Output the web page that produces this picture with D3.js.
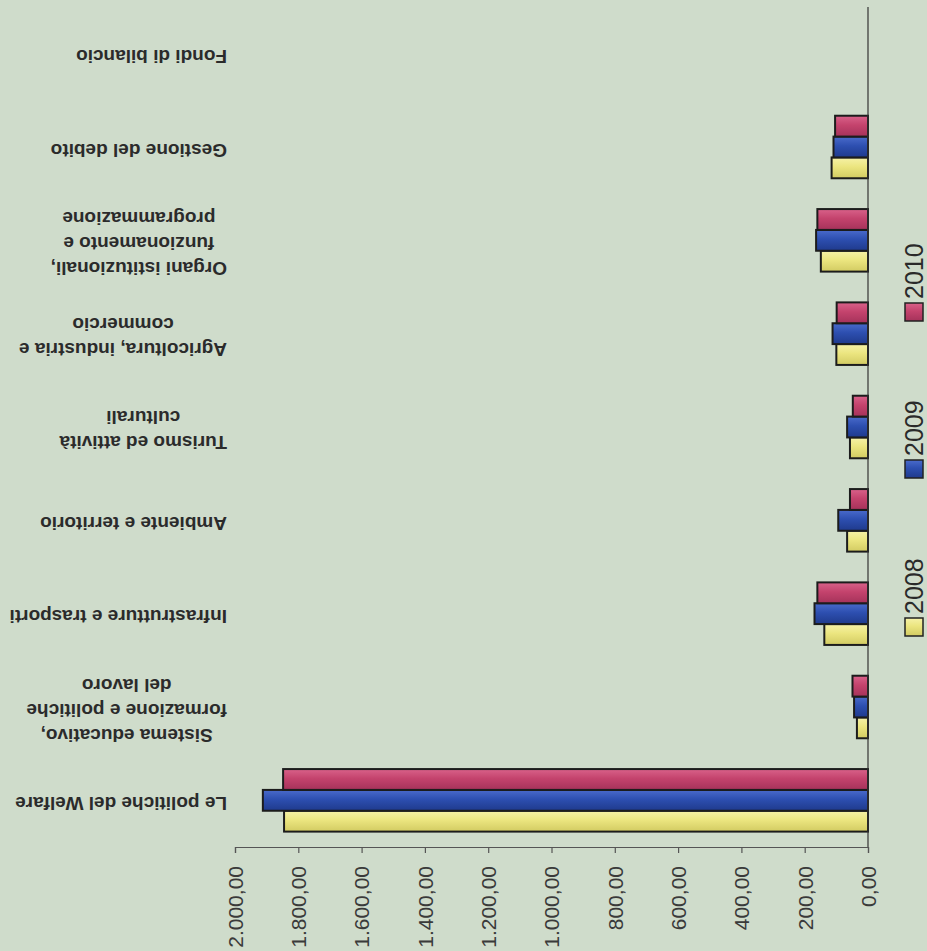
<!DOCTYPE html>
<html>
<head>
<meta charset="utf-8">
<script src="https://cdn.jsdelivr.net/npm/d3@7"></script>
<style>
  html, body { margin: 0; padding: 0; background: #cfdccb; }
  svg { display: block; }
</style>
</head>
<body>
<svg id="chart" width="927" height="951"></svg>
<script>
// ---- data ----
const categories = [
  "Le politiche del Welfare",
  "Sistema educativo, formazione e politiche del lavoro",
  "Infrastrutture e trasporti",
  "Ambiente e territorio",
  "Turismo ed attività culturali",
  "Agricoltura, industria e commercio",
  "Organi istituzionali, funzionamento e programmazione",
  "Gestione del debito",
  "Fondi di bilancio"
];
const categoryLines = [
  ["Le politiche del Welfare"],
  ["Sistema educativo,", "formazione e politiche", "del lavoro"],
  ["Infrastrutture e trasporti"],
  ["Ambiente e territorio"],
  ["Turismo ed attività", "culturali"],
  ["Agricoltura, industria e", "commercio"],
  ["Organi istituzionali,", "funzionamento e", "programmazione"],
  ["Gestione del debito"],
  ["Fondi di bilancio"]
];
const years = ["2008", "2009", "2010"];
const values2008 = [1845, 35, 138, 66, 57, 100, 149, 115, 0];
const values2009 = [1912, 44, 169, 94, 66, 112, 164, 109, 0];
const values2010 = [1848, 49, 160, 57, 48, 99, 160, 104, 0];
const tickValues = [0, 200, 400, 600, 800, 1000, 1200, 1400, 1600, 1800, 2000];

const series = [
  { year: "2008", values: values2008, color: "#ebe57f", light: "#f6f2a8", dark: "#d2cb62" },
  { year: "2009", values: values2009, color: "#2d4fb0", light: "#4a6bcb", dark: "#1f3a8c" },
  { year: "2010", values: values2010, color: "#c4436d", light: "#d9628a", dark: "#a5325a" }
];

const itLocale = d3.formatLocale({ decimal: ",", thousands: ".", grouping: [3], currency: ["€", ""] });
const fmt = itLocale.format(",.2f");

const svg = d3.select("#chart");

// background
svg.append("rect").attr("width", 927).attr("height", 951).attr("fill", "#cfdccb");

// gradients
const defs = svg.append("defs");
series.forEach((s, i) => {
  const g = defs.append("linearGradient").attr("id", "grad" + i)
    .attr("x1", 0).attr("y1", 0).attr("x2", 0).attr("y2", 1);
  g.append("stop").attr("offset", "0%").attr("stop-color", s.light);
  g.append("stop").attr("offset", "45%").attr("stop-color", s.color);
  g.append("stop").attr("offset", "100%").attr("stop-color", s.dark);
});

// scales
const axisY = 847;
const x = d3.scaleLinear().domain([0, 2000]).range([868, 235]);
const y = d3.scaleBand().domain(categories).range([axisY, 7]).paddingInner(0.33).paddingOuter(0.165);
const inner = d3.scaleBand().domain(years).range([y.bandwidth(), 0]).padding(0);

// bars
series.forEach((s, si) => {
  svg.append("g").selectAll("rect")
    .data(categories.map((c, i) => ({ c, v: s.values[i] })).filter(d => d.v > 0))
    .join("rect")
    .attr("x", d => x(d.v))
    .attr("y", d => y(d.c) + inner(s.year))
    .attr("width", d => x(0) - x(d.v))
    .attr("height", inner.bandwidth())
    .attr("fill", `url(#grad${si})`)
    .attr("stroke", "#1c1c1c")
    .attr("stroke-width", 2);
});

// value axis (horizontal)
const xAxis = d3.axisBottom(x).tickValues(tickValues).tickFormat(fmt).tickSize(6).tickSizeOuter(6);
const ax = svg.append("g").attr("transform", `translate(0,${axisY})`).call(xAxis);
ax.select(".domain").attr("stroke", "#555").attr("stroke-width", 1.2);
ax.selectAll(".tick line").attr("stroke", "#555").attr("stroke-width", 1.2);
ax.selectAll(".tick text")
  .attr("font-family", "Liberation Sans, Arial, sans-serif")
  .attr("font-size", 21)
  .attr("fill", "#3a3a3a")
  .attr("text-anchor", "end")
  .attr("dy", "0.35em")
  .attr("y", 0)
  .attr("transform", "translate(0,19) rotate(-90)");

// category axis line (vertical)
svg.append("line")
  .attr("x1", x(0)).attr("x2", x(0))
  .attr("y1", 7).attr("y2", axisY)
  .attr("stroke", "#333").attr("stroke-width", 1.2);

// category labels (upside down)
const labelRight = 227;
const lineH = 25;
categories.forEach((c, i) => {
  const lines = categoryLines[i];
  const cy = y(c) + y.bandwidth() / 2 + 3;
  const g = svg.append("g").attr("transform", `translate(${labelRight},${cy}) rotate(180)`);
  const texts = g.selectAll("text").data(lines).join("text")
    .attr("font-family", "Liberation Sans, Arial, sans-serif")
    .attr("font-weight", "bold")
    .attr("font-size", 19)
    .attr("fill", "#2b2b2b")
    .attr("text-anchor", "middle")
    .attr("dominant-baseline", "central")
    .attr("y", (d, k) => (k - (lines.length - 1) / 2) * lineH)
    .text(d => d);
  let maxW = 0;
  texts.each(function () { maxW = Math.max(maxW, this.getComputedTextLength()); });
  texts.attr("x", maxW / 2);
});

// legend (rotated)
const legendTops = [618, 460, 303];
const legend = svg.append("g");
series.forEach((s, i) => {
  const top = legendTops[i];
  legend.append("rect")
    .attr("x", 905).attr("y", top).attr("width", 18).attr("height", 18)
    .attr("fill", `url(#grad${i})`).attr("stroke", "#222").attr("stroke-width", 1.5);
  legend.append("text")
    .attr("transform", `translate(914,${top - 4}) rotate(-90)`)
    .attr("font-family", "Liberation Sans, Arial, sans-serif")
    .attr("font-size", 25)
    .attr("fill", "#2a2a2a")
    .attr("text-anchor", "start")
    .attr("dominant-baseline", "central")
    .text(s.year);
});
</script>
</body>
</html>
